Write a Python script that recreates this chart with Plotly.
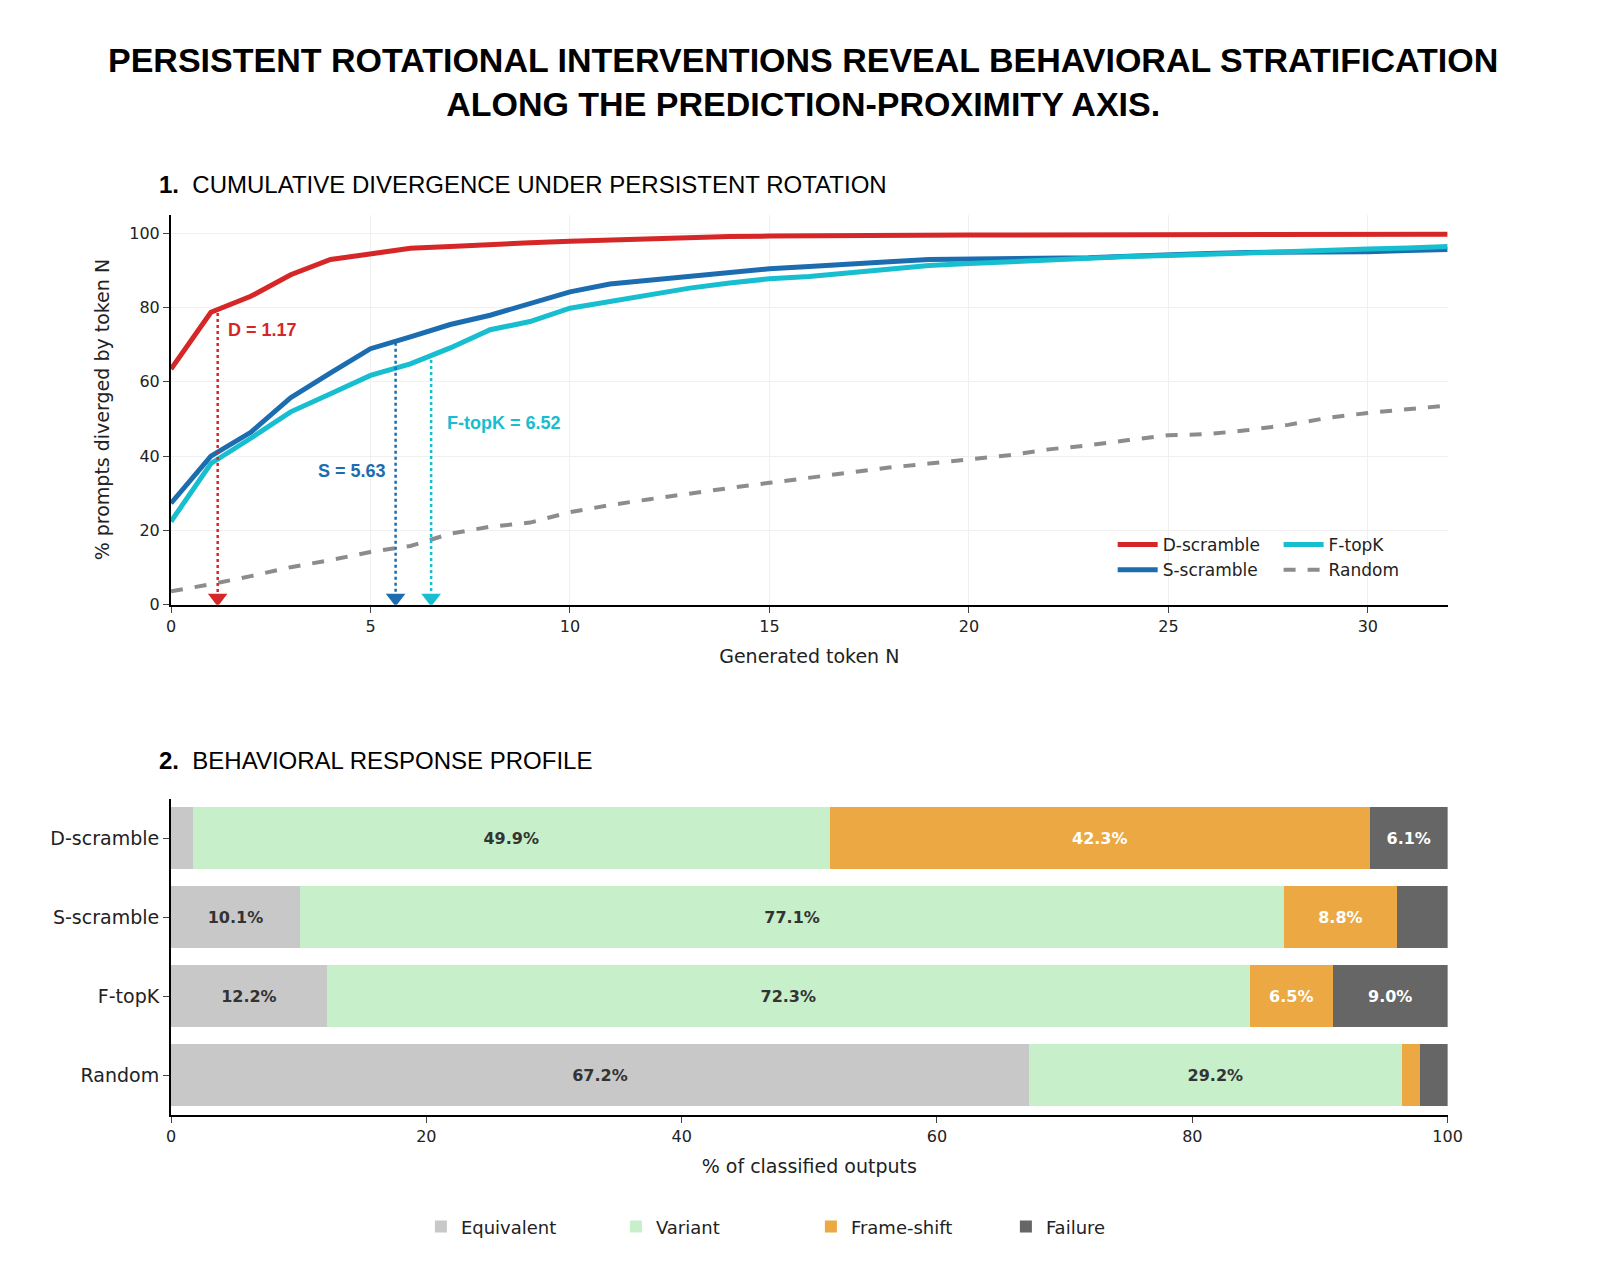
import plotly.graph_objects as go

tokens = list(range(33))
d_scramble = [63.4, 78.7, 83.0, 88.8, 92.9, 94.5, 95.9, 96.4, 97.0, 97.4, 97.8, 98.1, 98.6, 99.0, 99.1, 99.2, 99.3, 99.5,
              99.5, 99.5, 99.5, 99.5, 99.5, 99.5, 99.5, 99.5, 99.5, 99.5, 99.5, 99.5, 99.6, 99.7, 99.7]
s_scramble = [27.3, 40.0, 46.4, 55.7, 62.4, 68.9, 72.1, 75.4, 77.9, 80.9, 84.2, 86.3, 87.4, 88.5, 89.6, 90.4, 91.0, 91.8,
              92.3, 92.9, 93.0, 93.0, 93.0, 93.4, 93.8, 94.3, 94.5, 94.8, 94.8, 94.8, 95.0, 95.3, 95.6]
f_topk = [22.4, 38.0, 44.8, 51.9, 56.8, 61.7, 64.8, 69.1, 74.0, 76.2, 79.8, 81.7, 83.6, 85.2, 86.6, 87.7, 88.3, 89.3,
          90.4, 91.3, 91.8, 92.3, 92.9, 93.4, 93.7, 94.0, 94.4, 94.8, 95.1, 95.4, 95.7, 96.0, 96.4]
random_ = [3.6, 5.5, 7.7, 10.1, 12.0, 14.2, 15.8, 19.1, 21.0, 22.1, 24.9, 26.8, 28.4, 30.0, 31.4, 32.8, 34.2, 35.5,
           36.9, 38.0, 39.1, 40.2, 41.8, 42.9, 44.3, 45.6, 45.9, 47.0, 48.4, 50.3, 51.6, 52.5, 53.6]

# divergence point D per condition
d_names = ["D", "S", "F-topK"]
d_values = [1.17, 5.63, 6.52]
d_heights = [78.5, 70.5, 67.5]

conditions = ["D-scramble", "S-scramble", "F-topK", "Random"]
equivalent = [1.7, 10.1, 12.2, 67.2]
variant = [49.9, 77.1, 72.3, 29.2]
frame_shift = [42.3, 8.8, 6.5, 1.4]
failure = [6.1, 4.0, 9.0, 2.2]

RED, BLUE, CYAN, GRAY = "#d62728", "#1c6db0", "#17becf", "#8c8c8c"
FONT = "DejaVu Sans"

fig = go.Figure()
line_legend = {"D-scramble": "legend", "S-scramble": "legend", "F-topK": "legend2", "Random": "legend2"}
for name, ys, col in [("D-scramble", d_scramble, RED), ("S-scramble", s_scramble, BLUE),
                      ("F-topK", f_topk, CYAN), ("Random", random_, GRAY)]:
    fig.add_trace(go.Scatter(x=tokens, y=ys, mode="lines", name=name, legend=line_legend[name],
                             line=dict(color=col, width=5 if name != "Random" else 4,
                                       dash="dash" if name == "Random" else "solid"),
                             xaxis="x", yaxis="y"))

d_cols = [RED, BLUE, CYAN]
for nm, v, h, c in zip(d_names, d_values, d_heights, d_cols):
    fig.add_trace(go.Scatter(x=[v, v], y=[h, 1.5], mode="lines", line=dict(color=c, width=2.5, dash="dot"),
                             showlegend=False, xaxis="x", yaxis="y"))
    fig.add_trace(go.Scatter(x=[v], y=[1.8], mode="markers", marker=dict(symbol="triangle-down", size=17, color=c),
                             showlegend=False, xaxis="x", yaxis="y"))
fig.add_annotation(x=d_values[0], y=74, text="<b>D = 1.17</b>", showarrow=False, xanchor="left", xshift=8,
                   font=dict(color=RED, size=18, family="Liberation Sans"))
fig.add_annotation(x=d_values[1], y=36, text="<b>S = 5.63</b>", showarrow=False, xanchor="right", xshift=-8,
                   font=dict(color=BLUE, size=18, family="Liberation Sans"))
fig.add_annotation(x=d_values[2], y=49, text="<b>F-topK = 6.52</b>", showarrow=False, xanchor="left", xshift=14,
                   font=dict(color=CYAN, size=18, family="Liberation Sans"))

bar_sets = [("Equivalent", equivalent, "#c8c8c8", "#333333"), ("Variant", variant, "#c6efca", "#333333"),
            ("Frame-shift", frame_shift, "#eba843", "white"), ("Failure", failure, "#666666", "white")]
for name, vals, col, tcol in bar_sets:
    labels = [f"<b>{v:.1f}%</b>" if v >= 5 else "" for v in vals]
    fig.add_trace(go.Bar(y=conditions, x=vals, name=name, orientation="h", marker=dict(color=col, line=dict(width=0)),
                         text=labels, textposition="inside", insidetextanchor="middle",
                         textfont=dict(color=tcol, size=16, family=FONT), legend="legend3",
                         xaxis="x2", yaxis="y2"))

axis_common = dict(showline=True, linecolor="black", linewidth=2, ticks="outside", ticklen=6,
                   tickfont=dict(size=16, family=FONT, color="#222"), zeroline=False)
fig.update_layout(
    width=1600, height=1285, plot_bgcolor="white", paper_bgcolor="white",
    margin=dict(l=0, r=0, t=0, b=0), barmode="stack", bargap=0.22,
    font=dict(family=FONT, color="#222"),
    xaxis=dict(domain=[0.100, 0.908], anchor="y", range=[0, 32], dtick=5, showgrid=True, gridcolor="#f0f0f0",
               title=dict(text="Generated token N", font=dict(size=19)), **axis_common),
    yaxis=dict(domain=[0.532, 0.838], anchor="x", range=[0, 105], dtick=20, showgrid=True, gridcolor="#f0f0f0",
               title=dict(text="% prompts diverged by token N", font=dict(size=19)), **axis_common),
    xaxis2=dict(domain=[0.100, 0.908], anchor="y2", range=[0, 100], dtick=20, showgrid=False,
                title=dict(text="% of classified outputs", font=dict(size=19)), **axis_common),
    yaxis2=dict(domain=[0.132, 0.380], anchor="x2", autorange="reversed", showgrid=False,
                **{**axis_common, "tickfont": dict(size=19, family=FONT, color="#222")}),
    legend=dict(x=0.696, y=0.569, xanchor="left", yanchor="middle", font=dict(size=17), bgcolor="rgba(0,0,0,0)",
                itemwidth=40, tracegroupgap=4),
    legend2=dict(x=0.801, y=0.569, xanchor="left", yanchor="middle", font=dict(size=17), bgcolor="rgba(0,0,0,0)",
                 itemwidth=40),
    legend3=dict(orientation="h", x=0.505, y=0.044, xanchor="center", yanchor="middle", font=dict(size=18),
                 entrywidth=150, traceorder="normal"),
)
fig.add_annotation(x=0.5, y=0.976, xref="paper", yref="paper", showarrow=False,
                   text="<b>PERSISTENT ROTATIONAL INTERVENTIONS REVEAL BEHAVIORAL STRATIFICATION<br>ALONG THE PREDICTION-PROXIMITY AXIS.</b>",
                   font=dict(size=34, family="Liberation Sans", color="black"), align="center")
fig.add_annotation(x=0.091, y=0.874, xref="paper", yref="paper", showarrow=False, xanchor="left",
                   text="<b>1.</b>  CUMULATIVE DIVERGENCE UNDER PERSISTENT ROTATION",
                   font=dict(size=24, family="Liberation Sans", color="black"))
fig.add_annotation(x=0.091, y=0.410, xref="paper", yref="paper", showarrow=False, xanchor="left",
                   text="<b>2.</b>  BEHAVIORAL RESPONSE PROFILE",
                   font=dict(size=24, family="Liberation Sans", color="black"))

fig.write_html("out.html")
